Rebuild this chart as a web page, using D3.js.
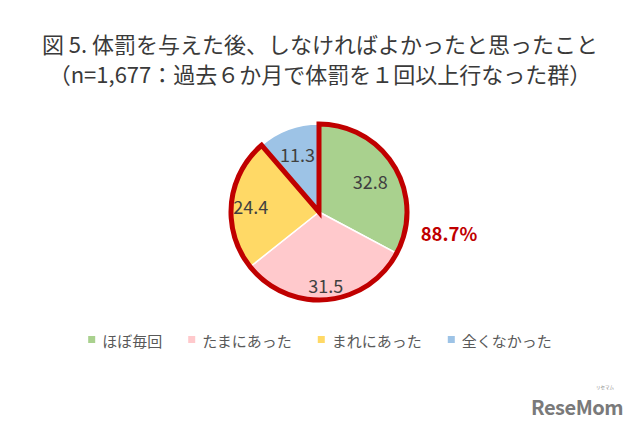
<!DOCTYPE html>
<html>
<head>
<meta charset="utf-8">
<script src="https://cdn.jsdelivr.net/npm/d3@7/dist/d3.min.js"></script>
<style>
  html, body { margin: 0; padding: 0; background: #fff; }
  svg { display: block; }
  text { font-family: "Noto Sans CJK JP", "Noto Sans", sans-serif; }
</style>
</head>
<body>
<div id="chart"></div>
<script>
const titleLines = [
  '図 5. 体罰を与えた後、しなければよかったと思ったこと',
  '（n=1,677：過去６か月で体罰を１回以上行なった群）'
];
const categories = ['ほぼ毎回', 'たまにあった', 'まれにあった', '全くなかった'];
const values = [32.8, 31.5, 24.4, 11.3];
const highlightCount = 3; // first three slices outlined
const highlightLabel = '88.7%';

const colors = ['#A9D18E', '#FFC9CC', '#FFD966', '#9DC3E6'];
const labelRadius = [0.68, 0.83, 0.78, 0.7];

const width = 640, height = 427;
const cx = 319, cy = 212, r = 88;

const svg = d3.select('#chart').append('svg')
  .attr('width', width)
  .attr('height', height);

svg.append('rect').attr('width', width).attr('height', height).attr('fill', '#fff');

// title
svg.selectAll('text.title')
  .data(titleLines)
  .enter()
  .append('text')
  .attr('class', 'title')
  .attr('x', width / 2)
  .attr('y', (d, i) => 53 + i * 30)
  .attr('text-anchor', 'middle')
  .attr('font-size', 22)
  .attr('fill', '#3a3a3a')
  .text(d => d);

const pie = d3.pie().sort(null).value(d => d);
const arcs = pie(values);
const arc = d3.arc().innerRadius(0).outerRadius(r);

const g = svg.append('g').attr('transform', `translate(${cx},${cy})`);

g.selectAll('path.slice')
  .data(arcs)
  .enter()
  .append('path')
  .attr('class', 'slice')
  .attr('d', arc)
  .attr('fill', (d, i) => colors[i])
  .attr('stroke', '#fff')
  .attr('stroke-width', 1.5);

// red outline around the combined slices
const total = d3.sum(values);
const endAngle = 2 * Math.PI * d3.sum(values.slice(0, highlightCount)) / total;
g.append('path')
  .attr('d', d3.arc()({ innerRadius: 0, outerRadius: r, startAngle: 0, endAngle }))
  .attr('fill', 'none')
  .attr('stroke', '#C00000')
  .attr('stroke-width', 5)
  .attr('stroke-linejoin', 'miter');

// slice labels
g.selectAll('text.val')
  .data(arcs)
  .enter()
  .append('text')
  .attr('class', 'val')
  .attr('transform', (d, i) => {
    const c = d3.arc().innerRadius(0).outerRadius(2 * r * labelRadius[i]).centroid(d);
    return `translate(${c[0]},${c[1]})`;
  })
  .attr('text-anchor', 'middle')
  .attr('dominant-baseline', 'central')
  .attr('font-family', 'Verdana, "DejaVu Sans", sans-serif')
  .attr('font-size', 18)
  .attr('fill', '#404040')
  .text(d => d.data.toFixed(1));

svg.append('text')
  .attr('x', 449)
  .attr('y', 233)
  .attr('text-anchor', 'middle')
  .attr('dominant-baseline', 'central')
  .attr('font-family', 'Verdana, "DejaVu Sans", sans-serif')
  .attr('font-weight', 'bold')
  .attr('font-size', 18.5)
  .attr('fill', '#C00000')
  .text(highlightLabel);

// legend
const legend = svg.append('g').attr('class', 'legend');
const items = legend.selectAll('g')
  .data(categories)
  .enter()
  .append('g');
items.append('rect')
  .attr('width', 7)
  .attr('height', 7)
  .attr('y', 336)
  .attr('fill', (d, i) => colors[i]);
items.append('text')
  .attr('x', 14)
  .attr('y', 340)
  .attr('dominant-baseline', 'central')
  .attr('font-size', 15)
  .attr('fill', '#595959')
  .text(d => d);

let xPos = 0;
const gap = 26;
items.each(function () {
  const w = 14 + this.querySelector('text').getComputedTextLength();
  d3.select(this).attr('transform', `translate(${xPos},0)`);
  xPos += w + gap;
});
const legendWidth = xPos - gap;
legend.attr('transform', `translate(${(width - legendWidth) / 2},0)`);

// watermark
svg.append('text')
  .attr('x', 623)
  .attr('y', 415)
  .attr('text-anchor', 'end')
  .attr('font-family', '"DejaVu Sans", sans-serif')
  .attr('font-weight', 'bold')
  .attr('font-size', 20)
  .attr('fill', '#7a7a7a')
  .attr('letter-spacing', -0.5)
  .text('ReseMom');
svg.append('text')
  .attr('x', 614)
  .attr('y', 389)
  .attr('text-anchor', 'end')
  .attr('font-size', 4.5)
  .attr('fill', '#8a8a8a')
  .text('リセマム');
</script>
</body>
</html>
